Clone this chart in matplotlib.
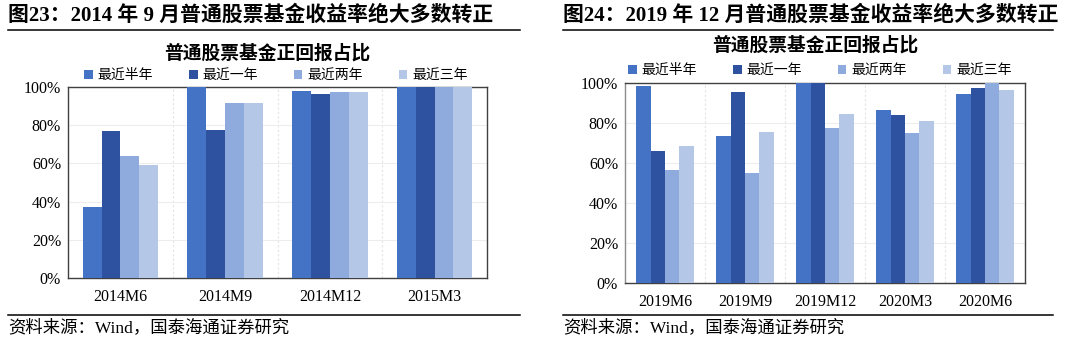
import numpy as np
import matplotlib
matplotlib.use('Agg')
import matplotlib.pyplot as plt
from matplotlib.lines import Line2D

plt.rcParams['font.family'] = ['Liberation Serif', 'Noto Sans CJK SC']

# ── Data ──────────────────────────────────────────────────────────────────────
series = ['最近半年', '最近一年', '最近两年', '最近三年']
colors = ['#4472C4', '#2F52A0', '#8FAADC', '#B4C7E7']

cats_a = ['2014M6', '2014M9', '2014M12', '2015M3']
half_a = [37.1, 100.0, 97.9, 100.0]
one_a = [77.1, 77.6, 96.3, 100.0]
two_a = [64.1, 91.8, 97.4, 100.0]
three_a = [59.2, 91.4, 97.4, 100.0]

cats_b = ['2019M6', '2019M9', '2019M12', '2020M3', '2020M6']
half_b = [98.7, 73.3, 100.0, 86.5, 94.7]
one_b = [65.8, 95.7, 100.0, 83.8, 97.7]
two_b = [56.3, 54.8, 77.3, 75.2, 100.0]
three_b = [68.7, 75.3, 84.7, 81.0, 96.3]

W, H = 1080, 346
fig = plt.figure(figsize=(W / 100, H / 100), dpi=100)


def fx(x):
    return x / W


def fy(y):
    return 1 - y / H


def draw_panel(rect, cats, vals, head, x0, x1, head_y, title_y, leg_x, leg_y, foot_y, left_col):
    l, t, r, b = rect
    ax = fig.add_axes([fx(l), fy(b), fx(r - l), (b - t) / H])
    n = len(cats)
    x = np.arange(n)
    bw = 0.18
    for k, (v, c) in enumerate(zip(vals, colors)):
        ax.bar(x + (k - 1.5) * bw, np.array(v) / 100, bw, color=c, label=series[k], zorder=3)
    ax.set_xlim(-0.5, n - 0.5)
    ax.set_ylim(0, 1.0)
    ax.set_yticks(np.arange(0, 1.01, 0.2))
    ax.set_yticklabels([f'{int(round(v * 100))}%' for v in np.arange(0, 1.01, 0.2)], fontsize=11.5)
    ax.set_xticks(x)
    ax.set_xticklabels(cats, fontsize=11.5)
    ax.tick_params(length=0, pad=5)
    ax.tick_params(axis='x', pad=8)
    ax.grid(axis='y', color='#EDEDED', linewidth=0.8, zorder=0)
    for xv in np.arange(0.5, n - 0.5, 1.0):
        ax.axvline(xv, color='#E4E4E4', linewidth=0.8, linestyle=(0, (2, 2)), zorder=0)
    for s in ax.spines.values():
        s.set_color('#404040')
        s.set_linewidth(1.0)
    ax.spines['left'].set_color(left_col)

    # header + rules
    fig.text(fx(x0), fy(head_y), head, fontsize=15, fontweight='bold', va='center', ha='left')
    fig.add_artist(Line2D([fx(x0), fx(x1)], [fy(29.5), fy(29.5)], color='black', linewidth=1.1))
    fig.add_artist(Line2D([fx(x0), fx(x1)], [fy(foot_y - 13), fy(foot_y - 13)], color='black', linewidth=1.1))
    fig.text(fx(x0), fy(foot_y), '资料来源：Wind，国泰海通证券研究', fontsize=12.5, va='center', ha='left')

    # chart title + legend
    fig.text(fx((l + r) / 2 - 10), fy(title_y), '普通股票基金正回报占比', fontsize=13.5, fontweight='bold',
             va='center', ha='center', family=['Noto Sans CJK SC'])
    ax.legend(loc='center', bbox_to_anchor=(fx(leg_x), fy(leg_y)), bbox_transform=fig.transFigure,
              ncol=4, frameon=False, handlelength=0.6, handleheight=0.6, handletextpad=0.35,
              columnspacing=2.6, prop={'family': 'Noto Sans CJK SC', 'size': 10})
    return ax


draw_panel((68, 87, 487, 278), cats_a, [half_a, one_a, two_a, three_a],
           '图23：2014 年 9 月普通股票基金收益率绝大多数转正', 8, 520, 16, 53, 276, 75, 328, '#404040')
draw_panel((625, 83, 1025, 283), cats_b, [half_b, one_b, two_b, three_b],
           '图24：2019 年 12 月普通股票基金收益率绝大多数转正', 563, 1053, 16, 45, 820, 70, 328, '#8C8C8C')

fig.savefig('out.png', dpi=100)
